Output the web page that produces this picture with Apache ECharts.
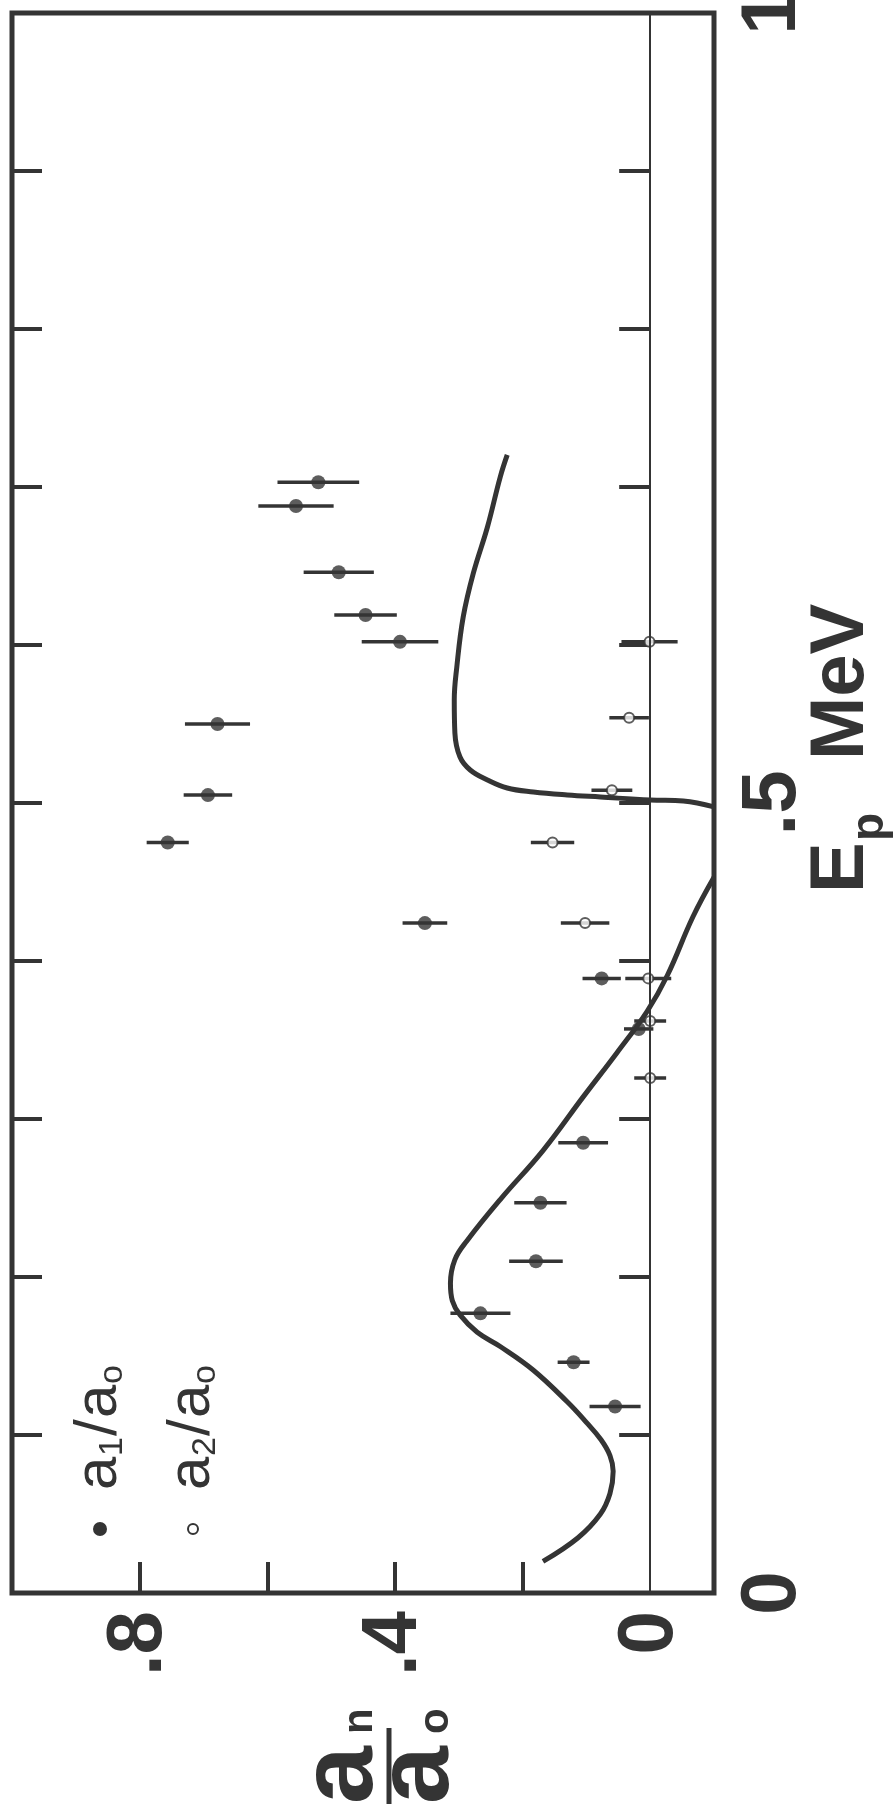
<!DOCTYPE html>
<html>
<head>
<meta charset="utf-8">
<script src="https://cdn.jsdelivr.net/npm/echarts@6/dist/echarts.min.js"></script>
<style>
  html, body { margin: 0; padding: 0; background: #fff; }
  #chart { width: 894px; height: 1807px; }
</style>
</head>
<body>
<div id="chart"></div>
<script>
// a1/a0 measurements: proton energy (MeV), ratio, error half-width
const a1Energy = [0.118, 0.146, 0.177, 0.210, 0.247, 0.285, 0.357, 0.389, 0.424, 0.475, 0.505, 0.550, 0.602, 0.619, 0.646, 0.688, 0.703];
const a1Ratio  = [0.055, 0.120, 0.266, 0.179, 0.172, 0.105, 0.018, 0.076, 0.353, 0.756, 0.693, 0.678, 0.392, 0.446, 0.488, 0.555, 0.520];
const a1Error  = [0.040, 0.025, 0.047, 0.042, 0.041, 0.039, 0.023, 0.030, 0.035, 0.033, 0.038, 0.051, 0.060, 0.049, 0.055, 0.059, 0.064];

// a2/a0 measurements
const a2Energy = [0.326, 0.362, 0.389, 0.424, 0.475, 0.508, 0.554, 0.602];
const a2Ratio  = [0.000, 0.000, 0.003, 0.102, 0.153, 0.060, 0.033, 0.001];
const a2Error  = [0.025, 0.025, 0.036, 0.038, 0.034, 0.032, 0.031, 0.044];

// calculated a1/a0, branch below the resonance
const calcLowEnergy = [0.020, 0.035, 0.050, 0.063, 0.077, 0.087, 0.097, 0.108, 0.121, 0.141, 0.156, 0.165, 0.176, 0.185, 0.196, 0.211, 0.223, 0.249, 0.280, 0.314, 0.342, 0.368, 0.391, 0.428, 0.453];
const calcLowRatio  = [0.168, 0.113, 0.078, 0.063, 0.058, 0.063, 0.077, 0.100, 0.130, 0.183, 0.235, 0.271, 0.298, 0.310, 0.313, 0.306, 0.287, 0.235, 0.168, 0.105, 0.052, 0.005, -0.027, -0.067, -0.100];

// calculated a1/a0, branch above the resonance
const calcHighEnergy = [0.4975, 0.5013, 0.5019, 0.5038, 0.5051, 0.5070, 0.5095, 0.5146, 0.5209, 0.5291, 0.5443, 0.5652, 0.5861, 0.6177, 0.6456, 0.6747, 0.7063, 0.7203];
const calcHighRatio  = [-0.100, -0.052, 0.000, 0.078, 0.130, 0.183, 0.224, 0.255, 0.282, 0.298, 0.306, 0.307, 0.303, 0.293, 0.277, 0.255, 0.235, 0.224];

// axis ticks and labels
const ratioTicks = [0.2, 0.4, 0.6, 0.8];
const ratioLabels = [0, 0.4, 0.8];
const energyLabels = [0, 0.5, 1];

const ink = '#343434';
const FONT = '"Liberation Sans", Arial, sans-serif';
const R90 = Math.PI / 2;

const fmt = v => (v === 0 ? '0' : String(+v.toFixed(2)).replace(/^0\./, '.'));

const pairs = (xs, ys) => xs.map((e, i) => [ys[i], e]);

function errorBars(energy, ratio, err) {
  return {
    type: 'custom',
    xAxisIndex: 0,
    yAxisIndex: 0,
    z: 3,
    silent: true,
    data: energy.map((e, i) => [ratio[i] - err[i], ratio[i] + err[i], e]),
    encode: { x: [0, 1], y: 2 },
    renderItem(params, api) {
      const a = api.coord([api.value(0), api.value(2)]);
      const b = api.coord([api.value(1), api.value(2)]);
      return {
        type: 'line',
        shape: { x1: a[0], y1: a[1], x2: b[0], y2: b[1] },
        style: { stroke: ink, lineWidth: 3.5 }
      };
    }
  };
}

const chart = echarts.init(document.getElementById('chart'), null, { renderer: 'canvas' });

// text piece inside a rotated group
const text = (t, x, y, size, weight) => ({
  type: 'text', x, y,
  style: {
    text: t, fill: ink,
    font: `${weight} ${size}px ${FONT}`,
    align: 'left', verticalAlign: 'middle',
    textAlign: 'left', textVerticalAlign: 'middle'
  }
});

chart.setOption({
  animation: false,
  backgroundColor: '#fff',
  grid: {
    left: 12, right: 180, top: 13, bottom: 214,
    show: true, borderColor: ink, borderWidth: 5,
    containLabel: false, outerBoundsMode: 'none'
  },
  xAxis: {
    type: 'value', min: -0.1, max: 1.0, inverse: true, position: 'bottom',
    axisLine: { show: false },
    splitLine: { show: false },
    axisTick: {
      show: true, inside: true, length: 31, customValues: ratioTicks,
      lineStyle: { color: ink, width: 4 }
    },
    axisLabel: {
      customValues: ratioLabels, rotate: 90, margin: 18,
      formatter: fmt, color: ink,
      fontFamily: FONT, fontWeight: 'bold', fontSize: 78
    }
  },
  yAxis: [
    {
      type: 'value', min: 0, max: 1, interval: 0.1, position: 'right',
      axisLine: { show: false },
      splitLine: { show: false },
      axisTick: { show: true, inside: true, length: 31, lineStyle: { color: ink, width: 4 } },
      axisLabel: {
        customValues: energyLabels, rotate: 90, margin: 20,
        formatter: fmt, color: ink,
        fontFamily: FONT, fontWeight: 'bold', fontSize: 78
      }
    },
    {
      type: 'value', min: 0, max: 1, interval: 0.1, position: 'left',
      axisLine: { show: false },
      splitLine: { show: false },
      axisTick: { show: true, inside: true, length: 30, lineStyle: { color: ink, width: 4 } },
      axisLabel: { show: false }
    }
  ],
  series: [
    {
      type: 'line', name: 'calc-low', z: 2, silent: true,
      data: pairs(calcLowEnergy, calcLowRatio),
      showSymbol: false, smooth: 0.4,
      lineStyle: { color: ink, width: 5 },
      markLine: {
        silent: true, symbol: ['none', 'none'], label: { show: false },
        lineStyle: { color: ink, width: 2, type: 'solid' },
        data: [{ xAxis: 0 }]
      }
    },
    {
      type: 'line', name: 'calc-high', z: 2, silent: true,
      data: pairs(calcHighEnergy, calcHighRatio),
      showSymbol: false, smooth: 0.4,
      lineStyle: { color: ink, width: 5 }
    },
    errorBars(a1Energy, a1Ratio, a1Error),
    errorBars(a2Energy, a2Ratio, a2Error),
    {
      type: 'scatter', name: 'a1/a0', z: 4,
      data: pairs(a1Energy, a1Ratio),
      symbol: 'circle', symbolSize: 14,
      itemStyle: { color: ink }
    },
    {
      type: 'scatter', name: 'a2/a0', z: 4,
      data: pairs(a2Energy, a2Ratio),
      symbol: 'circle', symbolSize: 10,
      itemStyle: { color: '#fff', borderColor: ink, borderWidth: 2 }
    }
  ],
  graphic: [
    // energy axis title, reading upward
    {
      type: 'group', x: 842, y: 893, rotation: R90,
      children: [
        text('E', 0, 0, 76, 'bold'),
        text('p', 52, 28, 46, 'bold'),
        text('MeV', 133, 0, 76, 'bold')
      ]
    },
    // ratio axis title: a_n over a_0
    {
      type: 'group', x: 389, y: 1804, rotation: R90,
      children: [
        text('a', 0, -46, 104, 'bold'),
        text('n', 70, -29, 42, 'bold'),
        { type: 'line', shape: { x1: 0, y1: 0, x2: 76, y2: 0 }, style: { stroke: ink, lineWidth: 5 } },
        text('a', 0, 30, 104, 'bold'),
        text('o', 70, 47, 42, 'bold')
      ]
    },
    // legend
    { type: 'circle', shape: { cx: 100, cy: 1529, r: 7 }, style: { fill: ink } },
    {
      type: 'group', x: 99, y: 1490, rotation: R90,
      children: [
        text('a', 0, 0, 60, 'normal'),
        text('1', 34, 14, 34, 'normal'),
        text('/', 54, 0, 60, 'normal'),
        text('a', 72, 0, 60, 'normal'),
        text('o', 106, 14, 34, 'normal')
      ]
    },
    { type: 'circle', shape: { cx: 193, cy: 1529, r: 5 }, style: { fill: '#fff', stroke: ink, lineWidth: 2 } },
    {
      type: 'group', x: 192, y: 1490, rotation: R90,
      children: [
        text('a', 0, 0, 60, 'normal'),
        text('2', 34, 14, 34, 'normal'),
        text('/', 54, 0, 60, 'normal'),
        text('a', 72, 0, 60, 'normal'),
        text('o', 106, 14, 34, 'normal')
      ]
    }
  ]
});
</script>
</body>
</html>
